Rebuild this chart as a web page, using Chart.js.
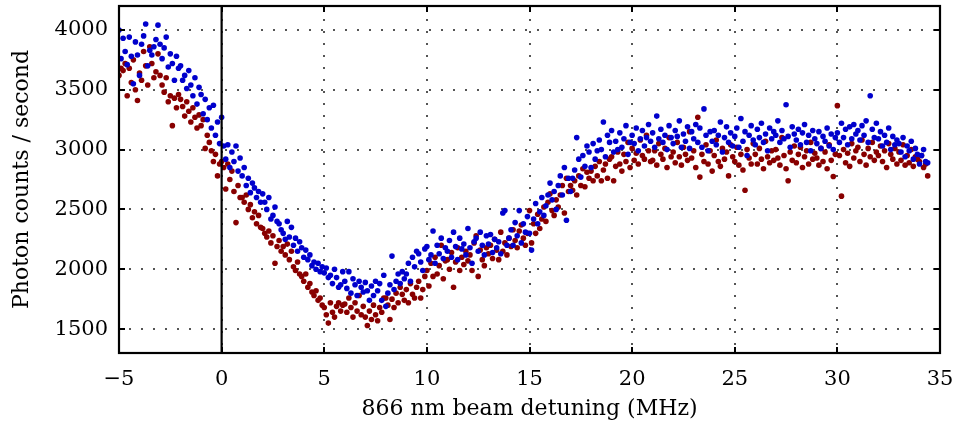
<!DOCTYPE html>
<html>
<head>
<meta charset="utf-8">
<script src="https://cdn.jsdelivr.net/npm/chart.js@4/dist/chart.umd.min.js"></script>
<style>
  html, body { margin: 0; padding: 0; background: #fff; }
  canvas { display: block; }
</style>
</head>
<body>
<canvas id="scan" width="956" height="424"></canvas>
<script>
// Laser detuning of the 866 nm repumper (MHz)
const detuning = [
  -5.0,-4.9,-4.8,-4.7,-4.6,-4.5,-4.4,-4.3,-4.2,-4.1,
  -4.0,-3.9,-3.8,-3.7,-3.6,-3.5,-3.4,-3.3,-3.2,-3.1,
  -3.0,-2.9,-2.8,-2.7,-2.6,-2.5,-2.4,-2.3,-2.2,-2.1,
  -2.0,-1.9,-1.8,-1.7,-1.6,-1.5,-1.4,-1.3,-1.2,-1.1,
  -1.0,-0.9,-0.8,-0.7,-0.6,-0.5,-0.4,-0.3,-0.2,-0.1,
  0.0,0.1,0.2,0.3,0.4,0.5,0.6,0.7,0.8,0.9,
  1.0,1.1,1.2,1.3,1.4,1.5,1.6,1.7,1.8,1.9,
  2.0,2.1,2.2,2.3,2.4,2.5,2.6,2.7,2.8,2.9,
  3.0,3.1,3.2,3.3,3.4,3.5,3.6,3.7,3.8,3.9,
  4.0,4.1,4.2,4.3,4.4,4.5,4.6,4.7,4.8,4.9,
  5.0,5.1,5.2,5.3,5.4,5.5,5.6,5.7,5.8,5.9,
  6.0,6.1,6.2,6.3,6.4,6.5,6.6,6.7,6.8,6.9,
  7.0,7.1,7.2,7.3,7.4,7.5,7.6,7.7,7.8,7.9,
  8.0,8.1,8.2,8.3,8.4,8.5,8.6,8.7,8.8,8.9,
  9.0,9.1,9.2,9.3,9.4,9.5,9.6,9.7,9.8,9.9,
  10.0,10.1,10.2,10.3,10.4,10.5,10.6,10.7,10.8,10.9,
  11.0,11.1,11.2,11.3,11.4,11.5,11.6,11.7,11.8,11.9,
  12.0,12.1,12.2,12.3,12.4,12.5,12.6,12.7,12.8,12.9,
  13.0,13.1,13.2,13.3,13.4,13.5,13.6,13.7,13.8,13.9,
  14.0,14.1,14.2,14.3,14.4,14.5,14.6,14.7,14.8,14.9,
  15.0,15.1,15.2,15.3,15.4,15.5,15.6,15.7,15.8,15.9,
  16.0,16.1,16.2,16.3,16.4,16.5,16.6,16.7,16.8,16.9,
  17.0,17.1,17.2,17.3,17.4,17.5,17.6,17.7,17.8,17.9,
  18.0,18.1,18.2,18.3,18.4,18.5,18.6,18.7,18.8,18.9,
  19.0,19.1,19.2,19.3,19.4,19.5,19.6,19.7,19.8,19.9,
  20.0,20.1,20.2,20.3,20.4,20.5,20.6,20.7,20.8,20.9,
  21.0,21.1,21.2,21.3,21.4,21.5,21.6,21.7,21.8,21.9,
  22.0,22.1,22.2,22.3,22.4,22.5,22.6,22.7,22.8,22.9,
  23.0,23.1,23.2,23.3,23.4,23.5,23.6,23.7,23.8,23.9,
  24.0,24.1,24.2,24.3,24.4,24.5,24.6,24.7,24.8,24.9,
  25.0,25.1,25.2,25.3,25.4,25.5,25.6,25.7,25.8,25.9,
  26.0,26.1,26.2,26.3,26.4,26.5,26.6,26.7,26.8,26.9,
  27.0,27.1,27.2,27.3,27.4,27.5,27.6,27.7,27.8,27.9,
  28.0,28.1,28.2,28.3,28.4,28.5,28.6,28.7,28.8,28.9,
  29.0,29.1,29.2,29.3,29.4,29.5,29.6,29.7,29.8,29.9,
  30.0,30.1,30.2,30.3,30.4,30.5,30.6,30.7,30.8,30.9,
  31.0,31.1,31.2,31.3,31.4,31.5,31.6,31.7,31.8,31.9,
  32.0,32.1,32.2,32.3,32.4,32.5,32.6,32.7,32.8,32.9,
  33.0,33.1,33.2,33.3,33.4,33.5,33.6,33.7,33.8,33.9,
  34.0,34.1,34.2,34.3,34.4
];

// Photon counts per second, blue trace
const countsBlue = [
  4000,3760,3930,3820,3710,3940,3780,3550,3900,3790,
  3620,3880,3950,4050,3700,3830,3790,3860,3920,4040,
  3880,3760,3850,3940,3690,3800,3720,3580,3780,3680,
  3700,3580,3620,3510,3660,3540,3450,3600,3380,3520,
  3460,3300,3420,3250,3350,3180,3370,3120,3230,3050,
  3270,3030,2920,3040,2850,2980,2900,3030,2820,2930,
  2780,2850,2700,2760,2640,2720,2680,2600,2650,2560,
  2630,2560,2500,2600,2420,2450,2520,2400,2380,2330,
  2300,2250,2400,2270,2350,2200,2260,2150,2230,2180,
  2100,2160,2080,2120,2030,2060,2000,2050,1980,2020,
  1970,2010,1930,1950,1880,2000,1930,1850,1870,1980,
  1900,1840,1980,1800,1920,1870,1780,1900,1850,1810,
  1890,1820,1740,1860,1780,1900,1820,1880,1740,1950,
  1690,1800,1870,2110,1830,1900,1960,1880,1980,1920,
  1960,2050,1900,2100,2020,2150,2130,2060,1990,2170,
  2190,2080,2120,2320,2050,2200,2130,2260,2090,2180,
  2150,2240,2100,2310,2190,2080,2260,2170,2210,2120,
  2340,2180,2050,2230,2260,2150,2310,2200,2120,2280,
  2210,2290,2140,2250,2180,2230,2130,2470,2490,2200,
  2260,2330,2200,2390,2280,2490,2220,2380,2310,2440,
  2300,2160,2420,2550,2380,2480,2600,2450,2530,2620,
  2720,2580,2650,2500,2700,2780,2620,2850,2410,2760,
  2650,2760,2830,3100,2920,2770,2950,2860,3030,2980,
  2850,3050,2920,2990,3080,3000,3230,2940,3120,3060,
  3160,2980,3070,3000,3140,3020,3090,3200,2960,3060,
  3120,3050,3180,2990,3090,3160,3030,3100,3210,3070,
  3140,3020,3280,3090,3170,3060,3120,3000,3200,3100,
  3050,3160,3110,3240,3020,3130,3070,3190,3010,3150,
  3090,3210,3060,3180,3020,3340,3120,2990,3150,3070,
  3160,3040,3120,3230,2980,3100,3190,3060,3140,3030,
  3110,3180,3020,3260,3070,3150,2950,3120,3200,3080,
  3040,3170,3100,3220,3060,3130,2990,3180,3090,3150,
  3120,3240,3060,3160,3090,3375,3110,3020,3190,3130,
  3080,3170,3040,3140,3210,3060,3120,2990,3160,3090,
  3050,3150,3010,3110,3070,3180,3030,3130,3000,3100,
  3140,3060,3220,3100,3170,3040,3190,3090,3210,3130,
  3160,3080,3200,3120,3240,3060,3450,3170,3100,3220,
  3090,3150,3030,3120,3060,3180,3000,3110,3040,3080,
  3050,2980,3100,2940,3030,2990,3070,2920,3010,2960,
  2880,2950,3000,2900,2890
];

// Photon counts per second, dark red trace
const countsRed = [
  3620,3680,3660,3720,3450,3680,3560,3750,3500,3410,
  3640,3580,3820,3700,3540,3860,3720,3600,3650,3800,
  3620,3540,3480,3600,3400,3450,3200,3430,3350,3460,
  3420,3360,3280,3400,3320,3230,3350,3270,3180,3290,
  3200,3250,3010,3120,3060,2990,2900,2960,2780,2880,
  2900,2850,2670,2880,2750,2820,2650,2390,2700,2600,
  2600,2560,2620,2500,2540,2430,2480,2380,2450,2350,
  2340,2300,2270,2320,2220,2280,2050,2190,2240,2150,
  2190,2120,2210,2080,2150,2020,1990,2060,1960,1940,
  1900,1960,1850,1880,1810,1780,1820,1740,1760,1700,
  1680,1620,1550,1720,1640,1600,1690,1720,1650,1700,
  1710,1640,1760,1680,1600,1720,1650,1780,1620,1690,
  1600,1530,1650,1580,1700,1620,1570,1680,1640,1760,
  1760,1700,1580,1750,1680,1800,1720,1850,1790,1740,
  1830,1720,1880,1790,1760,1850,1900,1760,1830,1940,
  1990,1860,2050,1940,2100,1960,2030,2200,1920,2070,
  2080,2000,2140,1850,2060,2180,1990,2100,2040,2150,
  2070,2120,1990,2220,2280,1940,2160,2080,2030,2180,
  2130,2200,2090,2250,2160,2080,2310,2150,2220,2120,
  2260,2190,2330,2240,2180,2320,2370,2260,2200,2300,
  2490,2220,2380,2300,2460,2340,2420,2520,2400,2560,
  2630,2490,2450,2580,2520,2620,2700,2470,2760,2650,
  2700,2660,2740,2620,2780,2700,2840,2690,2810,2760,
  2820,2740,2860,2780,2900,2740,2830,2880,2760,2920,
  2940,2740,2860,2980,2880,2820,2960,2900,3060,2850,
  3010,2910,2970,2880,3080,2950,2920,3120,2990,2900,
  2910,2990,2870,3050,2960,2920,3010,2850,3100,2940,
  2980,2890,3060,2940,2870,3020,2960,2910,3150,2930,
  2990,2850,3270,2770,2960,2900,3040,2880,2990,2820,
  2950,3080,2900,2860,3010,2920,2980,2780,3040,2940,
  2900,3020,2870,2960,2830,2660,3000,2930,2880,3050,
  2960,2880,3010,2920,2840,3070,2940,2890,2990,2910,
  3000,2930,2870,3100,2950,2840,2740,2980,2910,3030,
  2890,2960,3020,2850,2940,2990,2880,3060,2920,2970,
  2930,2870,3010,2900,2980,2840,3040,2910,2775,2960,
  3367,2950,2611,3000,2890,2970,2860,3050,2930,2990,
  3020,2900,3080,2960,2870,3010,2940,3060,2910,2980,
  2950,3030,2900,2990,2850,3050,2960,2920,3010,2880,
  2980,2910,3040,2870,2950,2890,3000,2860,2940,2920,
  2900,2950,2850,2880,2780
];

// Axis ranges and tick positions
const xRange = [-5, 35];
const yRange = [1300, 4200];
const xTicks = [-5, 0, 5, 10, 15, 20, 25, 30, 35];
const yTicks = [1500, 2000, 2500, 3000, 3500, 4000];
const resonance = 0;

const serif = "'DejaVu Serif', serif";
const tickFont = { family: serif, size: 21 };
const titleFont = { family: serif, size: 22 };
const minus = v => String(v).replace('-', '\u2212');

// Dotted grid underneath the points, boxed frame with inward ticks on top
const framePlugin = {
  id: 'frame',
  beforeDatasetsDraw(chart) {
    const { ctx, chartArea: a, scales: { x, y } } = chart;
    ctx.save();
    ctx.strokeStyle = '#555555';
    ctx.lineWidth = 2;
    ctx.setLineDash([2, 10]);
    xTicks.forEach(v => {
      const px = Math.round(x.getPixelForValue(v));
      if (px <= a.left + 2 || px >= a.right - 2) return;
      ctx.beginPath(); ctx.moveTo(px, a.bottom - 8); ctx.lineTo(px, a.top); ctx.stroke();
    });
    yTicks.forEach(v => {
      const py = Math.round(y.getPixelForValue(v));
      ctx.beginPath(); ctx.moveTo(a.left + 10, py); ctx.lineTo(a.right, py); ctx.stroke();
    });
    ctx.restore();
  },
  afterDatasetsDraw(chart) {
    const { ctx, chartArea: a, scales: { x, y } } = chart;
    ctx.save();
    ctx.strokeStyle = '#000';
    ctx.lineWidth = 2;
    const t = 6;
    xTicks.forEach(v => {
      const px = Math.round(x.getPixelForValue(v));
      ctx.beginPath();
      ctx.moveTo(px, a.bottom); ctx.lineTo(px, a.bottom - t);
      ctx.moveTo(px, a.top); ctx.lineTo(px, a.top + t);
      ctx.stroke();
    });
    yTicks.forEach(v => {
      const py = Math.round(y.getPixelForValue(v));
      ctx.beginPath();
      ctx.moveTo(a.left, py); ctx.lineTo(a.left + t, py);
      ctx.moveTo(a.right, py); ctx.lineTo(a.right - t, py);
      ctx.stroke();
    });
    ctx.lineWidth = 2.2;
    ctx.strokeRect(a.left, a.top, a.right - a.left, a.bottom - a.top);
    ctx.restore();
  }
};

new Chart(document.getElementById('scan'), {
  type: 'scatter',
  data: {
    datasets: [
      {
        type: 'line',
        data: [{ x: resonance, y: yRange[0] }, { x: resonance, y: yRange[1] }],
        borderColor: '#000',
        borderWidth: 2.2,
        pointRadius: 0,
        order: 0
      },
      {
        data: detuning.map((d, i) => ({ x: d, y: countsBlue[i] })),
        backgroundColor: '#0000cc',
        borderWidth: 0,
        pointRadius: 2.8,
        order: 1
      },
      {
        data: detuning.map((d, i) => ({ x: d, y: countsRed[i] })),
        backgroundColor: '#880000',
        borderWidth: 0,
        pointRadius: 2.8,
        order: 2
      }
    ]
  },
  options: {
    responsive: false,
    animation: false,
    devicePixelRatio: 1,
    layout: { padding: { left: 0, right: 16, top: 6, bottom: 2 } },
    plugins: { legend: { display: false }, tooltip: { enabled: false } },
    scales: {
      x: {
        type: 'linear',
        min: xRange[0], max: xRange[1],
        afterBuildTicks: s => { s.ticks = xTicks.map(v => ({ value: v })); },
        afterFit: s => { s.height = 69; s.paddingLeft = 0; s.paddingRight = 0; },
        grid: { display: false, drawTicks: false },
        border: { display: false },
        ticks: { font: tickFont, color: '#000', padding: 14, maxRotation: 0, callback: minus },
        title: { display: true, text: '866 nm beam detuning (MHz)', font: titleFont, color: '#000', padding: { top: 0, bottom: 0 } }
      },
      y: {
        type: 'linear',
        min: yRange[0], max: yRange[1],
        afterBuildTicks: s => { s.ticks = yTicks.map(v => ({ value: v })); },
        afterFit: s => { s.width = 119; s.paddingTop = 0; s.paddingBottom = 0; },
        grid: { display: false, drawTicks: false },
        border: { display: false },
        ticks: { font: tickFont, color: '#000', padding: 11, callback: minus },
        title: { display: true, text: 'Photon counts / second', font: titleFont, color: '#000', padding: { top: 9, bottom: 0 } }
      }
    }
  },
  plugins: [framePlugin]
});
</script>
</body>
</html>
